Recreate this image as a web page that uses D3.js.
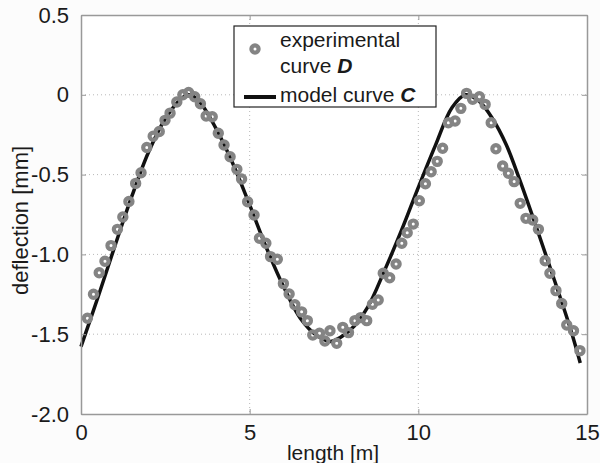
<!DOCTYPE html>
<html lang="en">
<head>
  <meta charset="UTF-8">
  <script src="https://cdn.jsdelivr.net/npm/d3@7"></script>
  <style>
    body { margin: 0; background: #fcfcfc; }
    text { font-family: "Liberation Sans", Arial, sans-serif; fill: #1a1a1a; }
  </style>
</head>
<body>
  <div id="wrapper"></div>
  <script>
    // experimental curve D
    const expX = [0.19, 0.37, 0.54, 0.71, 0.89, 1.08, 1.24, 1.42, 1.62, 1.78, 1.95, 2.14, 2.32, 2.49, 2.64, 2.84,
      3.02, 3.19, 3.37, 3.54, 3.71, 3.89, 4.07, 4.24, 4.42, 4.62, 4.76, 4.94, 5.13, 5.29, 5.48, 5.62, 5.82,
      6.00, 6.17, 6.34, 6.54, 6.71, 6.87, 7.07, 7.23, 7.38, 7.58, 7.76, 7.93, 8.12, 8.29, 8.47, 8.64, 8.81,
      8.96, 9.15, 9.34, 9.51, 9.67, 9.85, 10.03, 10.21, 10.38, 10.56, 10.72, 10.89, 11.09, 11.26, 11.43,
      11.61, 11.81, 11.98, 12.16, 12.30, 12.50, 12.67, 12.84, 13.02, 13.19, 13.39, 13.56, 13.76, 13.90,
      14.08, 14.25, 14.40, 14.60, 14.79];
    const expY = [-1.40, -1.25, -1.115, -1.043, -0.945, -0.843, -0.766, -0.668, -0.555, -0.488, -0.33, -0.26,
      -0.23, -0.16, -0.115, -0.045, 0.0, 0.015, -0.012, -0.056, -0.133, -0.138, -0.241, -0.315, -0.388,
      -0.467, -0.528, -0.67, -0.753, -0.899, -0.93, -1.014, -1.03, -1.183, -1.248, -1.315, -1.36, -1.415,
      -1.505, -1.494, -1.543, -1.478, -1.557, -1.457, -1.49, -1.415, -1.396, -1.415, -1.312, -1.286,
      -1.118, -1.146, -1.06, -0.93, -0.864, -0.81, -0.664, -0.557, -0.482, -0.417, -0.335, -0.175, -0.164,
      -0.085, 0.009, -0.028, -0.012, -0.06, -0.175, -0.338, -0.446, -0.492, -0.544, -0.68, -0.774, -0.784,
      -0.843, -1.04, -1.118, -1.227, -1.308, -1.442, -1.478, -1.603];

    // model curve C
    const modelX = [0.0, 0.5, 1.0, 1.5, 2.0, 2.5, 3.0, 3.2, 3.5, 4.0, 4.5, 5.0, 5.5, 6.0, 6.5, 7.0, 7.4,
      8.0, 8.5, 9.0, 9.5, 10.0, 10.5, 11.0, 11.4, 11.8, 12.2, 12.6, 13.0, 13.5, 14.0, 14.5, 14.8];
    const modelY = [-1.578, -1.27, -0.95, -0.64, -0.36, -0.15, -0.02, 0.0, -0.04, -0.21, -0.43, -0.69,
      -0.96, -1.20, -1.40, -1.51, -1.545, -1.47, -1.33, -1.10, -0.85, -0.58, -0.32, -0.08, 0.0, -0.04,
      -0.15, -0.31, -0.53, -0.83, -1.14, -1.46, -1.68];

    const xTicks = [0, 5, 10, 15];
    const yTicks = [0.5, 0, -0.5, -1.0, -1.5, -2.0];
    const yTickLabels = ["0.5", "0", "-0.5", "-1.0", "-1.5", "-2.0"];

    const dimensions = {
      width: 600,
      height: 463,
      margin: { top: 15, right: 13, bottom: 49, left: 81 },
    };
    dimensions.boundedWidth = dimensions.width - dimensions.margin.left - dimensions.margin.right;
    dimensions.boundedHeight = dimensions.height - dimensions.margin.top - dimensions.margin.bottom;

    const svg = d3.select("#wrapper")
      .append("svg")
      .attr("width", dimensions.width)
      .attr("height", dimensions.height);

    const bounds = svg.append("g")
      .attr("transform", `translate(${dimensions.margin.left},${dimensions.margin.top})`);

    const xScale = d3.scaleLinear()
      .domain([0, 15])
      .range([0, dimensions.boundedWidth]);

    const yScale = d3.scaleLinear()
      .domain([-2, 0.5])
      .range([dimensions.boundedHeight, 0]);

    // plot background
    bounds.append("rect")
      .attr("width", dimensions.boundedWidth)
      .attr("height", dimensions.boundedHeight)
      .attr("fill", "#fff");

    // grid
    const grid = bounds.append("g")
      .attr("stroke", "#b8b8b8")
      .attr("stroke-width", 1)
      .attr("stroke-dasharray", "1,3");
    grid.selectAll(".gx")
      .data(xTicks.slice(1, -1))
      .join("line")
      .attr("x1", d => xScale(d)).attr("x2", d => xScale(d))
      .attr("y1", 0).attr("y2", dimensions.boundedHeight);
    grid.selectAll(".gy")
      .data(yTicks.slice(1, -1))
      .join("line")
      .attr("x1", 0).attr("x2", dimensions.boundedWidth)
      .attr("y1", d => yScale(d)).attr("y2", d => yScale(d));

    // model curve
    const lineGenerator = d3.line()
      .x((d, i) => xScale(modelX[i]))
      .y(d => yScale(d))
      .curve(d3.curveCatmullRom);

    bounds.append("path")
      .attr("d", lineGenerator(modelY))
      .attr("fill", "none")
      .attr("stroke", "#111")
      .attr("stroke-width", 3.5);

    // experimental points
    bounds.selectAll(".pt")
      .data(expY)
      .join("circle")
      .attr("cx", (d, i) => xScale(expX[i]))
      .attr("cy", d => yScale(d))
      .attr("r", 3.6)
      .attr("fill", "none")
      .attr("stroke", "#848484")
      .attr("stroke-width", 4.2);

    // axes (matlab-like box with inward ticks)
    const xAxisBottom = bounds.append("g")
      .attr("transform", `translate(0,${dimensions.boundedHeight})`)
      .call(d3.axisBottom(xScale).tickValues(xTicks).tickSizeInner(-5).tickSizeOuter(0).tickPadding(10));
    const xAxisTop = bounds.append("g")
      .call(d3.axisTop(xScale).tickValues(xTicks).tickSizeInner(-5).tickSizeOuter(0).tickFormat(""));
    const yAxisLeft = bounds.append("g")
      .call(d3.axisLeft(yScale).tickValues(yTicks).tickSizeInner(-5).tickSizeOuter(0).tickPadding(12)
        .tickFormat((d, i) => yTickLabels[i]));
    const yAxisRight = bounds.append("g")
      .attr("transform", `translate(${dimensions.boundedWidth},0)`)
      .call(d3.axisRight(yScale).tickValues(yTicks).tickSizeInner(-5).tickSizeOuter(0).tickFormat(""));

    [xAxisBottom, xAxisTop, yAxisLeft, yAxisRight].forEach(ax => {
      ax.select(".domain").attr("stroke", "#999").attr("stroke-width", 1.5);
      ax.selectAll(".tick line").attr("stroke", "#999");
      ax.selectAll(".tick text")
        .attr("fill", "#1a1a1a")
        .style("font-size", "22px")
        .style("font-family", "'Liberation Sans', Arial, sans-serif");
    });

    // axis labels
    bounds.append("text")
      .attr("x", dimensions.boundedWidth / 2 - 1)
      .attr("y", dimensions.boundedHeight + 46)
      .style("text-anchor", "middle")
      .style("font-size", "21px")
      .text("length [m]");

    bounds.append("text")
      .attr("transform", `translate(${-dimensions.margin.left + 28},${dimensions.boundedHeight / 2 + 6}) rotate(-90)`)
      .style("text-anchor", "middle")
      .style("font-size", "22px")
      .text("deflection [mm]");

    // legend
    const legend = bounds.append("g")
      .attr("transform", `translate(${234 - dimensions.margin.left},${26 - dimensions.margin.top})`);

    legend.append("rect")
      .attr("width", 202)
      .attr("height", 81)
      .attr("fill", "#fff")
      .attr("stroke", "#222")
      .attr("stroke-width", 1.2);

    legend.append("circle")
      .attr("cx", 21).attr("cy", 23)
      .attr("r", 3.6)
      .attr("fill", "none")
      .attr("stroke", "#848484")
      .attr("stroke-width", 4.2);

    legend.append("line")
      .attr("x1", 10).attr("x2", 42)
      .attr("y1", 71).attr("y2", 71)
      .attr("stroke", "#111")
      .attr("stroke-width", 4);

    const legendText = legend.append("text")
      .style("font-size", "21px");
    legendText.append("tspan").attr("x", 46).attr("y", 21).text("experimental");
    const l2 = legendText.append("tspan").attr("x", 46).attr("y", 47).text("curve ");
    l2.append("tspan").style("font-weight", "bold").style("font-style", "italic").text("D");
    const l3 = legendText.append("tspan").attr("x", 46).attr("y", 76).text("model curve ");
    l3.append("tspan").style("font-weight", "bold").style("font-style", "italic").text("C");
  </script>
</body>
</html>
